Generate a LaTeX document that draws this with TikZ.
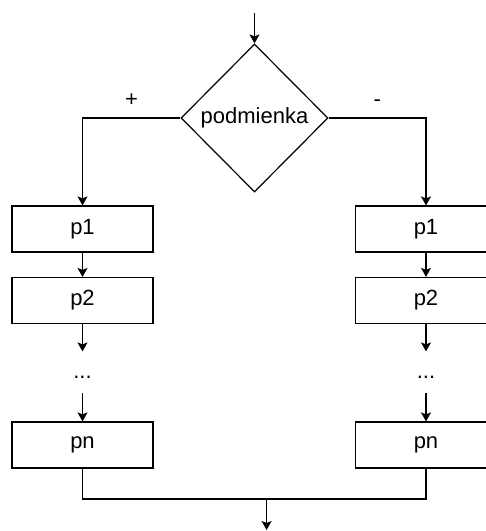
\documentclass[tikz,border=0pt]{standalone}
\usepackage{fontspec}
\setmainfont{Liberation Sans}
\usetikzlibrary{shapes.geometric, arrows.meta}

\begin{document}
\begin{tikzpicture}[x=1pt, y=1pt, font=\fontsize{11}{13}\selectfont,
    line width=0.6pt, >={Stealth[length=4.5pt, width=5pt, inset=1pt]},
    cond/.style={diamond, draw, inner sep=0pt, minimum width=73.5pt, minimum height=74pt},
    stepbox/.style={rectangle, draw, minimum width=70.5pt, minimum height=23pt, inner sep=0pt},
    dotsbox/.style={inner sep=0pt, text height=13pt, text depth=7pt}]
    \useasboundingbox (0,0) rectangle (243,-265.5);
    % decision
    \coordinate (in) at (127.25,-6.5);
    \node[cond] (if) at (127.25,-59) {podmienka};
    \draw[->] (in) -- (if);
    % left branch
    \node[stepbox] (lp1) at (41.25,-114.5) {p1};
    \node[stepbox] (lp2) at (41.25,-150.25) {p2};
    \node[dotsbox] (ldots) at (41.25,-186) {...};
    \node[stepbox] (lpn) at (41.25,-222.5) {pn};
    % right branch
    \node[stepbox] (rp1) at (213,-114.5) {p1};
    \node[stepbox] (rp2) at (213,-150.25) {p2};
    \node[dotsbox] (rdots) at (213,-186) {...};
    \node[stepbox] (rpn) at (213,-222.5) {pn};
    \draw[->] (if.west) -- node[midway, above=2pt] {+} (lp1.north |- if.west) -- (lp1);
    \draw[->] (if.east) -- node[midway, above=2pt] {-} (rp1.north |- if.east) -- (rp1);
    \foreach \s in {l, r} {
        \draw[->] (\s p1) -- (\s p2);
        \draw[->] (\s p2) -- (\s dots);
        \draw[->] (\s dots) -- (\s pn);
    }
    % join
    \coordinate (join) at (133.3,-249.5);
    \coordinate (out) at (133.3,-265);
    \draw (lpn.south) |- (join) -| (rpn.south);
    \draw[->] (join) -- (out);
\end{tikzpicture}
\end{document}
